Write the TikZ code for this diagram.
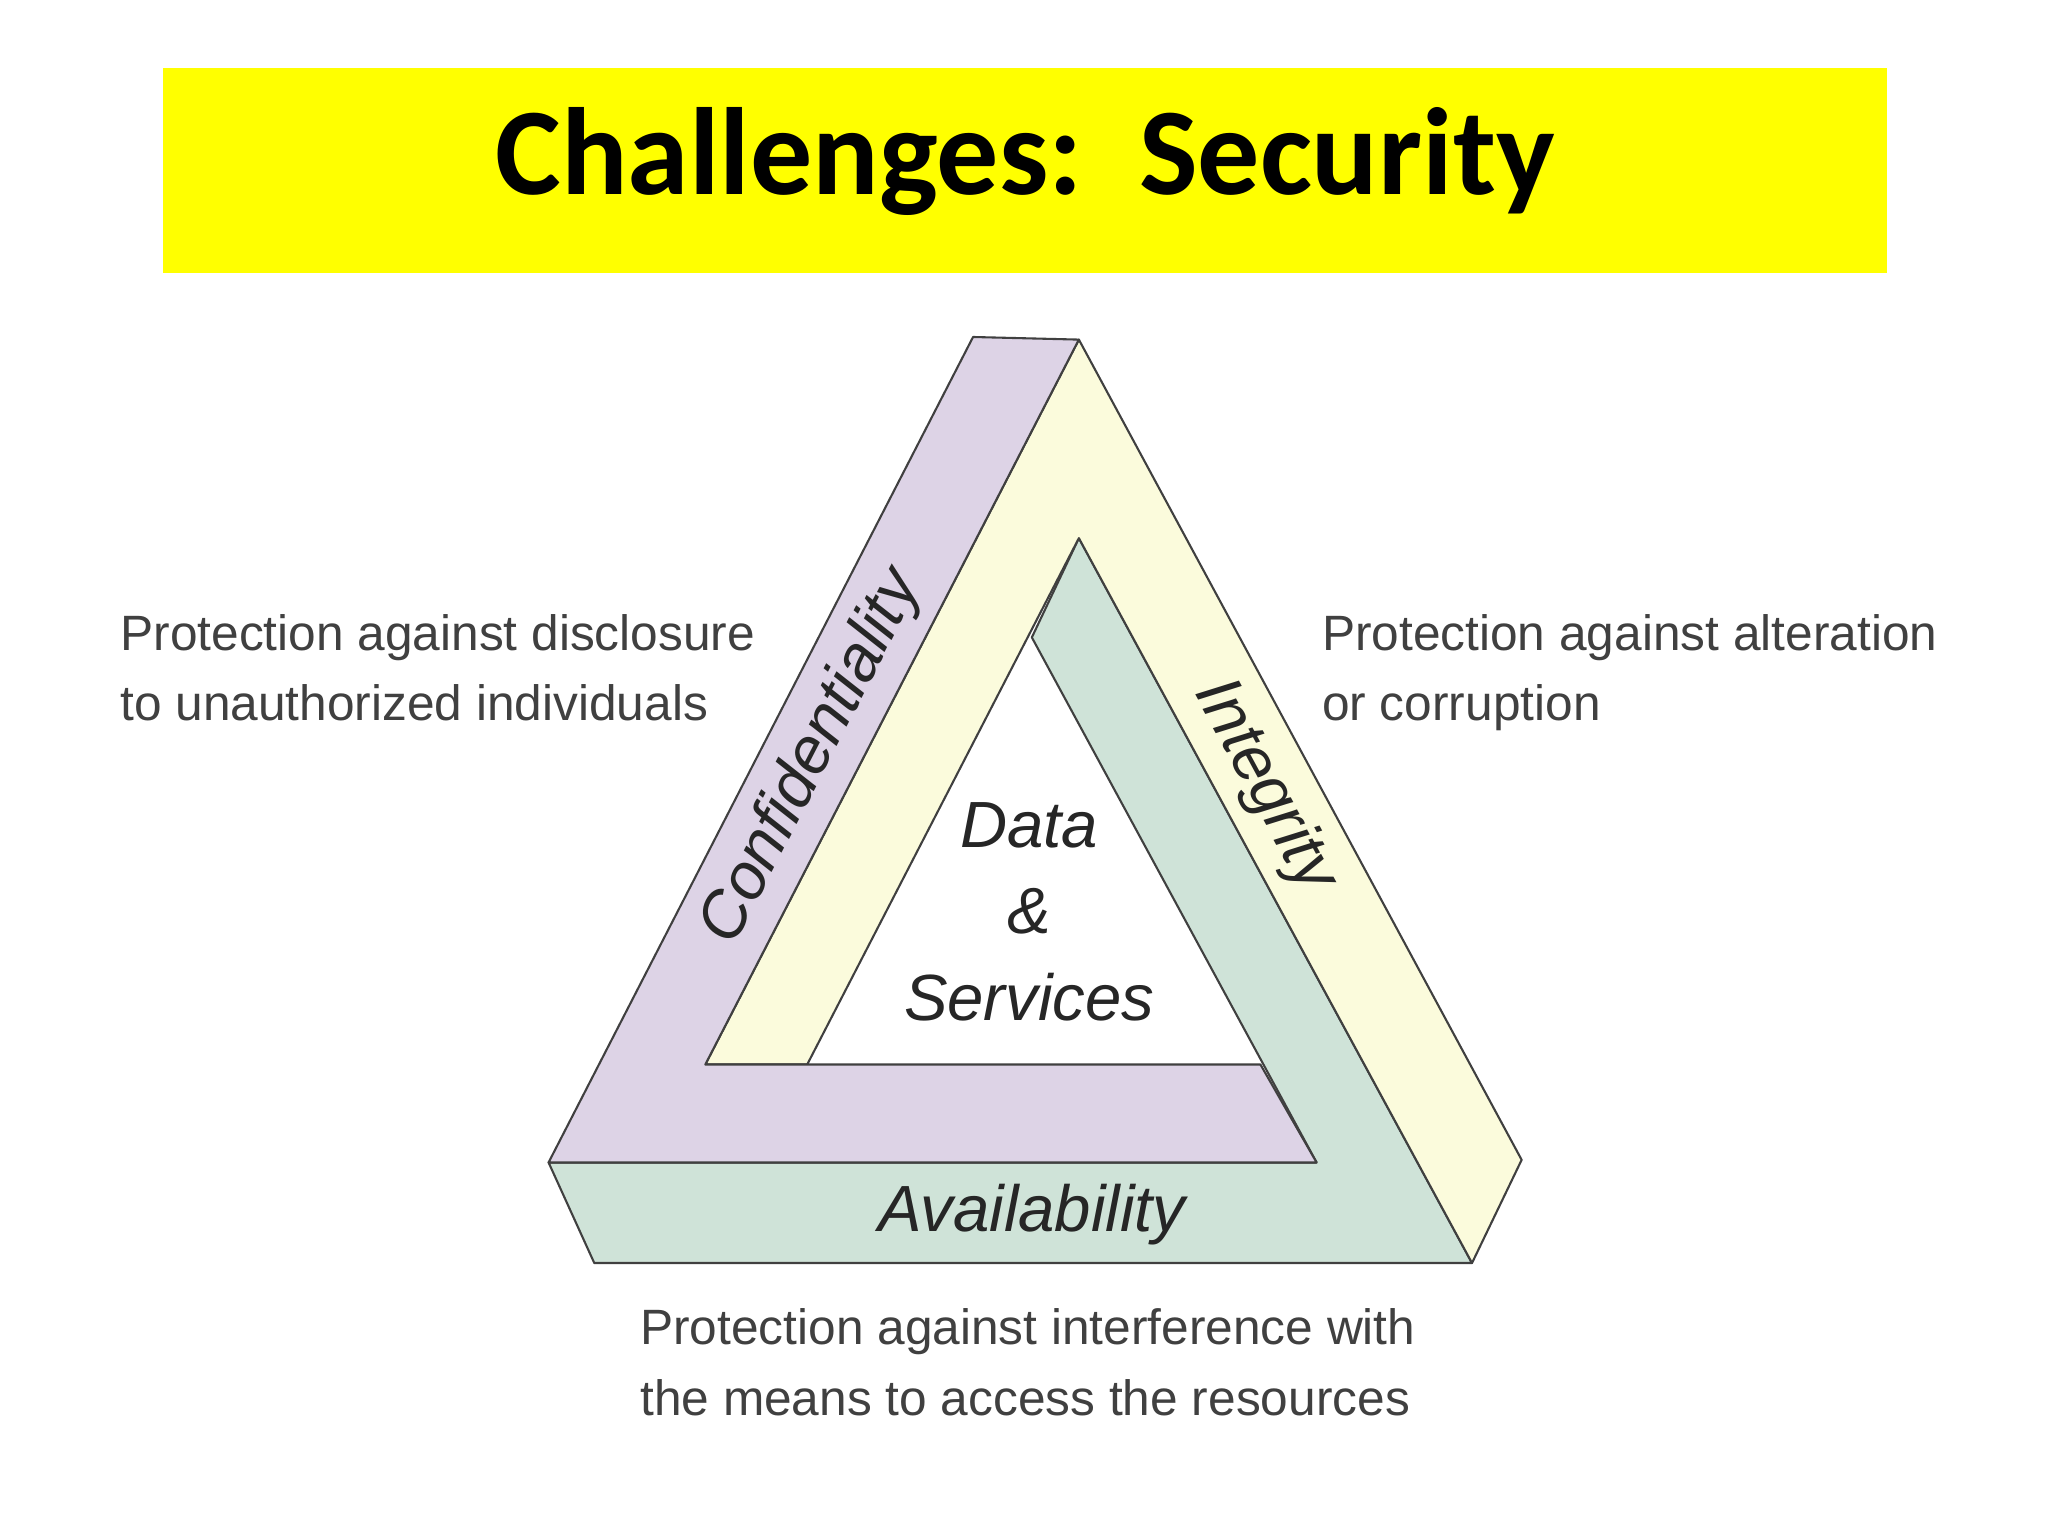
\documentclass[tikz,border=0pt]{standalone}
\usepackage{fontspec}
\setmainfont{Liberation Sans}
\newfontfamily\titlefont{Carlito}
\definecolor{titleyellow}{RGB}{255,255,0}
\begin{document}
\begin{tikzpicture}[x=1pt,y=-1pt,
  band/.style={draw=black!75,line width=1.6pt,line join=round},
  lbl/.style={font=\fontsize{50}{54}\selectfont\itshape,text=black!85},
  desc/.style={font=\fontsize{38}{54}\selectfont,text=black!75,align=left,anchor=north west,inner sep=0pt}]
\useasboundingbox (0,0) rectangle (1568,1176);
\fill[white] (0,0) rectangle (1568,1176);
\fill[titleyellow] (125,52) rectangle (1445,209);
\node (title) at (785,124) {\titlefont\bfseries\fontsize{95}{100}\selectfont Challenges:\ \ Security};
% bands
\filldraw[band,fill={rgb,255:red,207;green,227;blue,216}] (826,412) -- (1127,967) -- (455,967) -- (420,890) -- (1008,890) -- (790,488) -- cycle;
\filldraw[band,fill={rgb,255:red,251;green,251;blue,220}] (826,260) -- (1165,888) -- (1127,967) -- (826,412) -- (618,815) -- (540,815) -- cycle;
\filldraw[band,fill={rgb,255:red,221;green,211;blue,230}] (745,258) -- (826,260) -- (540,815) -- (965,815) -- (1008,890) -- (420,890) -- cycle;
\node[lbl,rotate=62.8] (conf) at (622,580) {Confidentiality};
\node[lbl,rotate=-61.6] (integ) at (968,602) {Integrity};
\node[lbl] (avail) at (790,930) {Availability};
\node[lbl,align=center,font=\fontsize{50}{66}\selectfont\itshape] (data) at (788,698) {Data\\\&\\Services};
\node[desc] (dl) at (92,470) {Protection against disclosure\\to unauthorized individuals};
\node[desc] (dr) at (1012,470) {Protection against alteration\\or corruption};
\node[desc] (db) at (490,1002) {Protection against interference with\\the means to access the resources};
\end{tikzpicture}
\end{document}
